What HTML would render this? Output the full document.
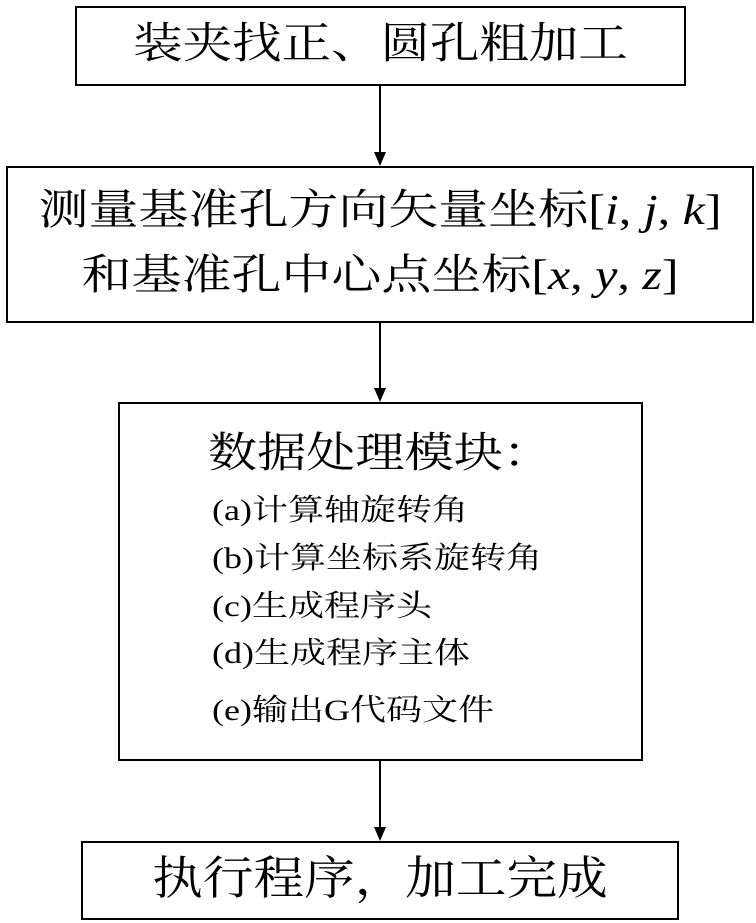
<!DOCTYPE html>
<html><head><meta charset="utf-8"><style>
body{margin:0;width:756px;height:923px;background:#fff;position:relative;overflow:hidden;font-family:"Liberation Serif","Noto Serif CJK SC",serif;color:#000}
.b{position:absolute;border:2px solid #000;box-sizing:border-box}
.t{position:absolute;white-space:nowrap;line-height:1}
i{font-style:italic}
</style></head><body>
<div class="b" style="left:75px;top:6px;width:611px;height:80px"></div>
<div class="t" style="left:75px;width:611px;text-align:center;top:23px;font-size:43px;transform:scaleX(1.15)">装夹找正、圆孔粗加工</div>
<div class="b" style="left:6px;top:166px;width:748px;height:157px"></div>
<div class="t" style="left:6px;width:748px;text-align:center;top:190px;font-size:42px;transform:scaleX(1.19)">测量基准孔方向矢量坐标[<i>i</i>, <i>j</i>, <i>k</i>]</div>
<div class="t" style="left:6px;width:748px;text-align:center;top:255px;font-size:42px;transform:scaleX(1.19)">和基准孔中心点坐标[<i>x</i>, <i>y</i>, <i>z</i>]</div>
<div class="b" style="left:118px;top:402px;width:525px;height:359px"></div>
<div class="t" style="left:208px;top:433px;font-size:42px;transform:scaleX(1.17);transform-origin:0 0">数据处理模块：</div>
<div class="t" style="left:212px;top:496px;font-size:30px;transform:scaleX(1.2);transform-origin:0 0">(a)计算轴旋转角</div>
<div class="t" style="left:212px;top:544px;font-size:30px;transform:scaleX(1.2);transform-origin:0 0">(b)计算坐标系旋转角</div>
<div class="t" style="left:212px;top:592px;font-size:30px;transform:scaleX(1.2);transform-origin:0 0">(c)生成程序头</div>
<div class="t" style="left:212px;top:639px;font-size:30px;transform:scaleX(1.2);transform-origin:0 0">(d)生成程序主体</div>
<div class="t" style="left:212px;top:696px;font-size:30px;transform:scaleX(1.2);transform-origin:0 0">(e)输出G代码文件</div>
<div class="b" style="left:81px;top:841px;width:598px;height:79px"></div>
<div class="t" style="left:81px;width:598px;text-align:center;top:856px;font-size:46px;transform:scaleX(1.1)">执行程序，加工完成</div>
<svg width="756" height="923" style="position:absolute;left:0;top:0">
<g stroke="#000" stroke-width="2"><line x1="380" y1="86" x2="380" y2="152"/><line x1="380" y1="323" x2="380" y2="388"/><line x1="380" y1="761" x2="380" y2="827"/></g>
<g fill="#000"><polygon points="374,152 386,152 380,166"/><polygon points="374,388 386,388 380,402"/><polygon points="374,827 386,827 380,841"/></g>
</svg>
</body></html>
